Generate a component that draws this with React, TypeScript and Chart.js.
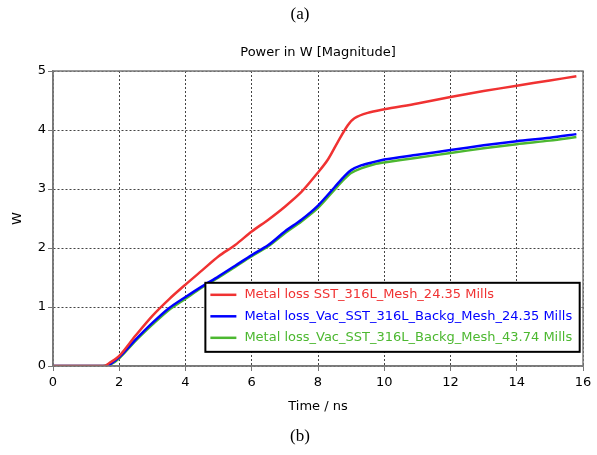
import React, { useEffect, useRef } from "react";
import { Chart, registerables } from "chart.js";

Chart.register(...registerables);

const chartTitle = "Power in W [Magnitude]";
const xTitle = "Time / ns";
const yTitle = "W";
const topCaption = "(a)";
const bottomCaption = "(b)";

const seriesLabels = [
  "Metal loss SST_316L_Mesh_24.35 Mills",
  "Metal loss_Vac_SST_316L_Backg_Mesh_24.35 Mills",
  "Metal loss_Vac_SST_316L_Backg_Mesh_43.74 Mills",
];
const seriesColors = ["#f03232", "#0000ff", "#4cb830"];

const redT = [0, 1.55, 1.7, 2, 2.5, 3, 3.5, 4, 4.5, 5, 5.5, 6, 6.5, 7, 7.5, 8, 8.3, 8.6, 8.9, 9.1, 9.5, 10, 11, 12, 13, 14, 15, 15.8];
const redV = [0, 0, 0.05, 0.17, 0.52, 0.85, 1.13, 1.38, 1.62, 1.86, 2.05, 2.28, 2.48, 2.7, 2.95, 3.28, 3.5, 3.8, 4.08, 4.2, 4.29, 4.35, 4.45, 4.56, 4.66, 4.75, 4.84, 4.91];

const blueT = [0, 1.6, 1.75, 2, 2.5, 3, 3.5, 4, 4.5, 5, 5.5, 6, 6.5, 7, 7.5, 8, 8.5, 8.8, 9, 9.3, 9.7, 10, 11, 12, 13, 14, 15, 15.8];
const blueV = [0, 0, 0.04, 0.15, 0.45, 0.73, 0.98, 1.17, 1.35, 1.52, 1.7, 1.88, 2.05, 2.28, 2.48, 2.72, 3.03, 3.22, 3.32, 3.4, 3.46, 3.5, 3.58, 3.66, 3.74, 3.81, 3.87, 3.93];

const greenT = [0, 1.5, 1.75, 2, 2.5, 3, 3.5, 4, 4.5, 5, 5.5, 6, 6.5, 7, 7.5, 8, 8.5, 8.8, 9, 9.3, 9.7, 10, 11, 12, 13, 14, 15, 15.8];
const greenV = [0, 0, 0.03, 0.13, 0.43, 0.7, 0.95, 1.14, 1.33, 1.5, 1.68, 1.86, 2.03, 2.25, 2.45, 2.68, 2.99, 3.17, 3.27, 3.35, 3.42, 3.45, 3.53, 3.61, 3.69, 3.76, 3.82, 3.88];

const FONT = "'DejaVu Sans', Verdana, sans-serif";

const toPoints = (t: number[], v: number[]) => t.map((x, i) => ({ x, y: v[i] }));

const framePlugin = {
  id: "frameAndLegend",
  afterDraw(chart: any) {
    const { ctx, chartArea } = chart;
    const { left, top, right, bottom } = chartArea;
    ctx.save();
    // frame
    ctx.strokeStyle = "#7a7a7a";
    ctx.lineWidth = 1.5;
    ctx.setLineDash([]);
    ctx.strokeRect(left, top, right - left, bottom - top);

    // legend box
    const lx0 = chart.scales.x.getPixelForValue(4.6);
    const lx1 = chart.scales.x.getPixelForValue(15.9);
    const ly0 = chart.scales.y.getPixelForValue(1.41);
    const ly1 = chart.scales.y.getPixelForValue(0.24);
    ctx.fillStyle = "#ffffff";
    ctx.fillRect(lx0, ly0, lx1 - lx0, ly1 - ly0);
    ctx.strokeStyle = "#000000";
    ctx.lineWidth = 2;
    ctx.strokeRect(lx0, ly0, lx1 - lx0, ly1 - ly0);
    ctx.font = `13px ${FONT}`;
    ctx.textBaseline = "middle";
    ctx.textAlign = "left";
    chart.data.datasets.forEach((ds: any, i: number) => {
      const y = ly0 + 12 + i * 21.5;
      ctx.strokeStyle = ds.borderColor;
      ctx.lineWidth = 2.5;
      ctx.beginPath();
      ctx.moveTo(lx0 + 5, y);
      ctx.lineTo(lx0 + 31, y);
      ctx.stroke();
      ctx.fillStyle = ds.borderColor;
      ctx.fillText(ds.label, lx0 + 39, y);
    });

    // captions
    ctx.fillStyle = "#000";
    ctx.font = "17px 'Liberation Serif', 'Times New Roman', serif";
    ctx.textAlign = "center";
    ctx.fillText(topCaption, 300, 15);
    ctx.fillText(bottomCaption, 300, 437);
    ctx.restore();
  },
};

export default function App() {
  const ref = useRef<HTMLCanvasElement | null>(null);
  useEffect(() => {
    if (!ref.current) return;
    const datasets = [
      toPoints(redT, redV),
      toPoints(blueT, blueV),
      toPoints(greenT, greenV),
    ].map((d, i) => ({
      label: seriesLabels[i],
      data: d,
      borderColor: seriesColors[i],
      backgroundColor: seriesColors[i],
      borderWidth: 2.5,
      pointRadius: 0,
      tension: 0.3,
      fill: false,
    }));
    const chart = new Chart(ref.current, {
      type: "line",
      data: { datasets },
      options: {
        animation: false,
        responsive: false,
        maintainAspectRatio: false,
        layout: { padding: { left: 0, right: 14, top: 30, bottom: 41 } },
        plugins: {
          legend: { display: false },
          tooltip: { enabled: false },
          title: {
            display: true,
            fullSize: false,
            text: chartTitle,
            color: "#000",
            font: { family: FONT, size: 13, weight: "normal" },
            padding: { top: 15, bottom: 10.4 },
          },
        },
        scales: {
          x: {
            type: "linear",
            min: 0,
            max: 16,
            ticks: { stepSize: 2, color: "#000", font: { family: FONT, size: 13 }, padding: 4, maxRotation: 0 },
            grid: { color: "#444", lineWidth: 1, tickLength: 5, tickColor: "#777", tickBorderDash: [] },
            border: { display: true, color: "#7a7a7a", width: 1.5, dash: [2, 2] },
            title: { display: true, text: xTitle, color: "#000", font: { family: FONT, size: 13 }, padding: { top: 0, bottom: 0 } },
            afterFit: (s: any) => { s.height = 48; },
          },
          y: {
            type: "linear",
            min: 0,
            max: 5,
            ticks: { stepSize: 1, color: "#000", font: { family: FONT, size: 13 }, padding: 2 },
            grid: { color: "#444", lineWidth: 1, tickLength: 5, tickColor: "#777", tickBorderDash: [] },
            border: { display: true, color: "#7a7a7a", width: 1.5, dash: [2, 2] },
            title: { display: true, text: yTitle, color: "#000", font: { family: FONT, size: 13 }, padding: { top: 10, bottom: 0 } },
            afterFit: (s: any) => { s.width = 53; },
          },
        },
      },
      plugins: [framePlugin],
    });
    return () => chart.destroy();
  }, []);
  return (
    <div style={{ position: "fixed", left: 0, top: 0, width: 597, height: 455, background: "#fff" }}>
      <canvas ref={ref} width={597} height={455} style={{ width: 597, height: 455, display: "block" }} />
    </div>
  );
}
